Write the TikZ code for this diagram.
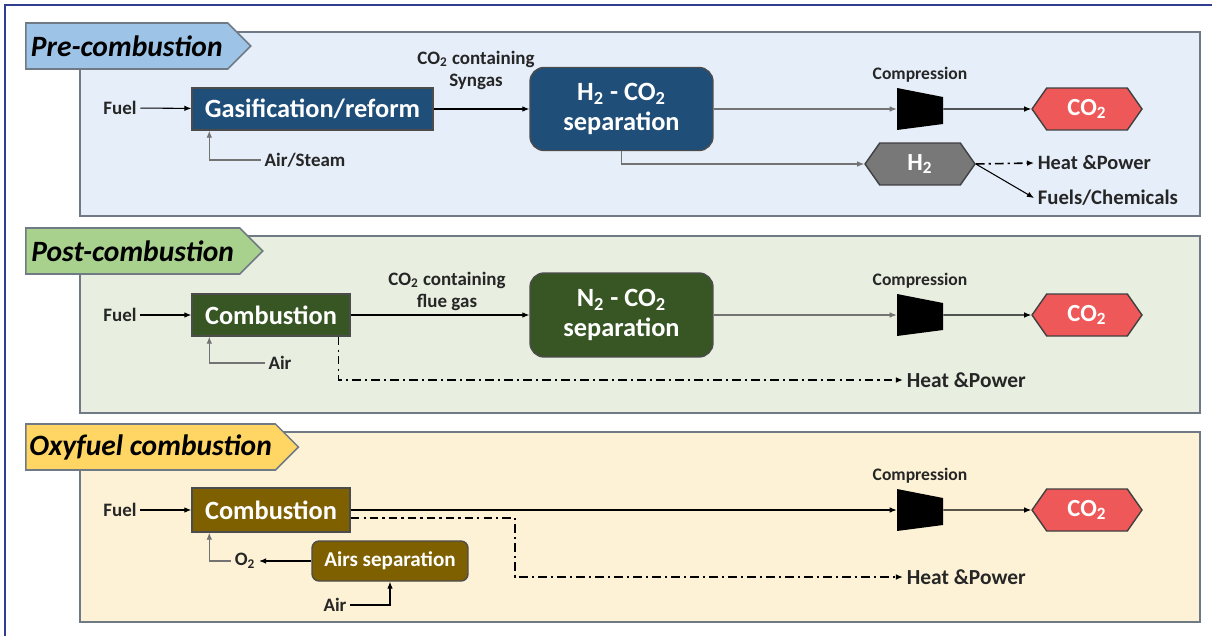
\documentclass[tikz,border=0pt]{standalone}
\usepackage{fontspec}
\setmainfont{Carlito}
\usetikzlibrary{shapes.symbols,arrows.meta,positioning}
\definecolor{frameblue}{RGB}{47,62,145}
\definecolor{panelgray}{RGB}{112,122,132}
\definecolor{preback}{RGB}{230,238,249}
\definecolor{pretag}{RGB}{157,195,230}
\definecolor{postback}{RGB}{232,238,224}
\definecolor{posttag}{RGB}{169,209,142}
\definecolor{oxyback}{RGB}{253,242,214}
\definecolor{oxytag}{RGB}{255,214,100}
\definecolor{preblue}{RGB}{31,78,121}
\definecolor{postgreen}{RGB}{55,86,35}
\definecolor{oxybrown}{RGB}{127,96,0}
\definecolor{cored}{RGB}{238,88,88}
\definecolor{hgray}{RGB}{120,120,120}

\begin{document}
\begin{tikzpicture}[x=0.02cm,y=-0.02cm,
  panel/.style={draw=panelgray,line width=0.9pt},
  tagbox/.style={signal,signal to=east,draw=panelgray,line width=0.9pt,anchor=west,
    font=\fontsize{16.8}{19}\selectfont\bfseries\itshape,minimum height=0.92cm,inner sep=2pt},
  proc/.style={draw=black!70,line width=0.8pt,text=white,align=center,inner sep=2pt,
    font=\fontsize{15}{17}\selectfont\bfseries},
  hexa/.style={signal,signal to=east and west,signal pointer angle=110,draw=black!75,
    line width=0.8pt,text=white,font=\fontsize{14}{16}\selectfont\bfseries,
    minimum width=2.2cm,minimum height=0.84cm,inner sep=1pt},
  comp/.style={minimum width=0.92cm,minimum height=0.84cm,inner sep=0pt,
    path picture={\fill[black] (path picture bounding box.north west)
      -- (path picture bounding box.south west)
      -- ([yshift=0.12cm]path picture bounding box.south east)
      -- ([yshift=-0.18cm]path picture bounding box.north east) -- cycle;}},
  lbl/.style={font=\fontsize{10.8}{12.5}\selectfont\bfseries,text=black!85,inner sep=2pt},
  complbl/.style={lbl,font=\fontsize{10}{12}\selectfont\bfseries},
  outlbl/.style={lbl,anchor=west,font=\fontsize{11.8}{14}\selectfont\bfseries},
  flow/.style={-{Latex[length=4pt,width=3.2pt]},line width=0.6pt},
  feed/.style={flow,draw=black!55},
  heat/.style={flow,line width=0.9pt,dash pattern=on 5pt off 2.3pt on 1.2pt off 2.3pt}]
\useasboundingbox (0,0) rectangle (1212,635);
% frame
\draw[frameblue,line width=1.4pt] (5,640) -- (5,5) -- (1215,5);

% Pre-combustion
\filldraw[panel,fill=preback] (80,32) rectangle (1200,216);
\node[tagbox,fill=pretag,minimum width=4.5cm] (tag1) at (25,46) {Pre-combustion};
\node[lbl] (fuel1) at (120,108) {Fuel};
\node[proc,fill=preblue,minimum width=4.82cm,minimum height=0.84cm] (gas) at (312.5,109) {Gasification/reform};
\node[lbl] (air1) at (305,160) {Air/Steam};
\node[proc,fill=preblue,rounded corners=8pt,minimum width=3.66cm,minimum height=1.66cm] (sep1) at (621.5,109)
  {H\textsubscript{2} - CO\textsubscript{2}\\separation};
\node[lbl,align=center] at (476,70) {CO\textsubscript{2} containing\\Syngas};
\node[comp] (comp1) at (920,109) {};
\node[complbl,above=0.04cm of comp1] {Compression};
\node[hexa,fill=cored] (co21) at (1087,109) {CO\textsubscript{2}};
\node[hexa,fill=hgray] (h2) at (920,164) {H\textsubscript{2}};
\node[outlbl,font=\fontsize{11.6}{14}\selectfont\bfseries] (hp1) at (1034,163) {Heat \&Power};
\node[outlbl] (fc) at (1034,198) {Fuels/Chemicals};
\draw[flow] (fuel1) -- (gas);
\draw[feed] (air1.west) -| ([xshift=0.36cm]gas.south west);
\draw[flow] (gas) -- (sep1);
\draw[feed] (sep1) -- (comp1);
\draw[flow] (comp1) -- (co21);
\draw[feed] (sep1.south) |- (h2.west);
\draw[heat] (h2.east) -- (hp1.west);
\draw[flow] (h2.east) -- (fc.west);

% Post-combustion
\filldraw[panel,fill=postback] (80,236) rectangle (1200,413);
\node[tagbox,fill=posttag,minimum width=4.74cm] (tag2) at (25,251) {Post-combustion};
\node[lbl] (fuel2) at (120,315) {Fuel};
\node[proc,fill=postgreen,minimum width=3.16cm,minimum height=0.84cm] (comb2) at (271,315) {Combustion};
\node[lbl] (air2) at (280,363) {Air};
\node[proc,fill=postgreen,rounded corners=8pt,minimum width=3.66cm,minimum height=1.68cm] (sep2) at (621.5,315)
  {N\textsubscript{2} - CO\textsubscript{2}\\separation};
\node[lbl,align=center] at (447,291) {CO\textsubscript{2} containing\\flue gas};
\node[comp] (comp2) at (920,315) {};
\node[complbl,above=0.04cm of comp2] {Compression};
\node[hexa,fill=cored] (co22) at (1087,315) {CO\textsubscript{2}};
\node[outlbl,font=\fontsize{12.2}{14}\selectfont\bfseries] (hp2) at (903,380) {Heat \&Power};
\draw[flow] (fuel2) -- (comb2);
\draw[feed] (air2.west) -| ([xshift=0.36cm]comb2.south west);
\draw[flow] (comb2) -- (sep2);
\draw[feed] (sep2) -- (comp2);
\draw[flow] (comp2) -- (co22);
\draw[heat] ([xshift=-0.24cm]comb2.south east) |- (hp2.west);

% Oxyfuel combustion
\filldraw[panel,fill=oxyback] (80,432) rectangle (1200,622);
\node[tagbox,fill=oxytag,minimum width=5.24cm] (tag3) at (25,447) {Oxyfuel combustion};
\node[lbl] (fuel3) at (120,510) {Fuel};
\node[proc,fill=oxybrown,minimum width=3.16cm,minimum height=0.88cm] (comb3) at (271,510) {Combustion};
\node[proc,fill=oxybrown,rounded corners=4pt,minimum width=3.12cm,minimum height=0.8cm,
  font=\fontsize{12}{14}\selectfont\bfseries] (asep) at (390,561) {Airs separation};
\node[lbl] (o2) at (245,561) {O\textsubscript{2}};
\node[lbl] (air3) at (335,605) {Air};
\node[comp] (comp3) at (920,510) {};
\node[complbl,above=0.04cm of comp3] {Compression};
\node[hexa,fill=cored] (co23) at (1087,510) {CO\textsubscript{2}};
\node[outlbl,font=\fontsize{12.2}{14}\selectfont\bfseries] (hp3) at (903,577) {Heat \&Power};
\coordinate (turn3) at (515,577);
\draw[flow] (fuel3) -- (comb3);
\draw[flow] (comb3) -- (comp3);
\draw[flow] (comp3) -- (co23);
\draw[flow] (asep) -- (o2);
\draw[feed] (o2.west) -| ([xshift=0.36cm]comb3.south west);
\draw[flow] (air3.east) -| (asep.south);
\draw[heat] ([yshift=-0.16cm]comb3.east) -| (turn3) -- (hp3.west);
\end{tikzpicture}
\end{document}
